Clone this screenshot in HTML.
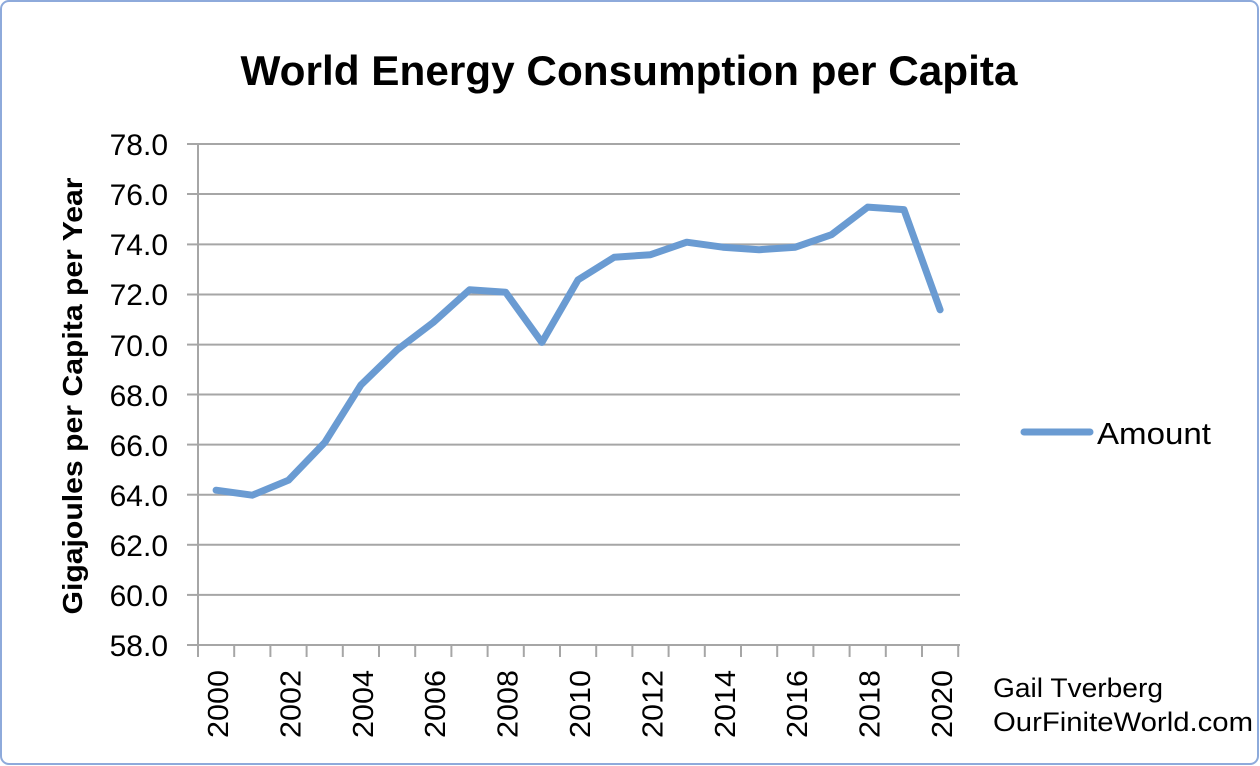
<!DOCTYPE html>
<html><head><style>
html,body{margin:0;padding:0;background:#fff;}
svg{display:block;font-family:"Liberation Sans",sans-serif;}
</style></head><body>
<svg width="1260" height="766" viewBox="0 0 1260 766">
<rect x="1" y="1" width="1257" height="763" rx="8" fill="#fff" stroke="#8eaadb" stroke-width="2"/>
<text x="629" y="85" text-anchor="middle" font-size="42" font-weight="bold" fill="#000" textLength="777" lengthAdjust="spacingAndGlyphs">World Energy Consumption per Capita</text>
<g stroke="#a6a6a6" stroke-width="2">
<line x1="198" y1="144" x2="960" y2="144"/>
<line x1="198" y1="194" x2="960" y2="194"/>
<line x1="198" y1="244.4" x2="960" y2="244.4"/>
<line x1="198" y1="294.5" x2="960" y2="294.5"/>
<line x1="198" y1="344.6" x2="960" y2="344.6"/>
<line x1="198" y1="394.5" x2="960" y2="394.5"/>
<line x1="198" y1="444.6" x2="960" y2="444.6"/>
<line x1="198" y1="494.7" x2="960" y2="494.7"/>
<line x1="198" y1="544.8" x2="960" y2="544.8"/>
<line x1="198" y1="594.9" x2="960" y2="594.9"/>
<line x1="187" y1="645" x2="960" y2="645"/>
<line x1="198" y1="144" x2="198" y2="645"/>
<line x1="187" y1="144" x2="198" y2="144"/><line x1="187" y1="194" x2="198" y2="194"/><line x1="187" y1="244.4" x2="198" y2="244.4"/><line x1="187" y1="294.5" x2="198" y2="294.5"/><line x1="187" y1="344.6" x2="198" y2="344.6"/><line x1="187" y1="394.5" x2="198" y2="394.5"/><line x1="187" y1="444.6" x2="198" y2="444.6"/><line x1="187" y1="494.7" x2="198" y2="494.7"/><line x1="187" y1="544.8" x2="198" y2="544.8"/><line x1="187" y1="594.9" x2="198" y2="594.9"/>
</g>
<g font-size="30" text-anchor="end" fill="#000">
<text x="168" y="155">78.0</text><text x="168" y="205">76.0</text><text x="168" y="255">74.0</text><text x="168" y="305">72.0</text><text x="168" y="356">70.0</text><text x="168" y="406">68.0</text><text x="168" y="456">66.0</text><text x="168" y="506">64.0</text><text x="168" y="556">62.0</text><text x="168" y="606">60.0</text><text x="168" y="656">58.0</text>
</g>
<text transform="translate(82,396) rotate(-90)" text-anchor="middle" font-size="28" font-weight="bold" textLength="437" lengthAdjust="spacingAndGlyphs">Gigajoules per Capita per Year</text>
<polyline fill="none" stroke="#6a9bd2" stroke-width="7" stroke-linejoin="round" stroke-linecap="round" points="216.1,490.2 252.3,495.2 288.5,480.2 324.7,442.6 360.9,385.0 397.1,349.9 433.3,322.4 469.5,289.8 505.7,292.3 541.9,342.4 578.1,279.8 614.3,257.2 650.5,254.7 686.7,242.2 722.9,247.2 759.1,249.7 795.3,247.2 831.5,234.7 867.7,207.1 903.9,209.6 940.1,309.8"/>
<line x1="1024" y1="432" x2="1090" y2="432" stroke="#6a9bd2" stroke-width="7" stroke-linecap="round"/>
<text x="1097" y="444" font-size="31" textLength="114" lengthAdjust="spacingAndGlyphs">Amount</text>
<text x="993" y="697" font-size="27" textLength="170" lengthAdjust="spacingAndGlyphs">Gail Tverberg</text>
<text x="993" y="731" font-size="27" textLength="260" lengthAdjust="spacingAndGlyphs">OurFiniteWorld.com</text>
<g stroke="#a6a6a6" stroke-width="2">
<line x1="198" y1="645" x2="198" y2="657"/><line x1="234.2" y1="645" x2="234.2" y2="657"/><line x1="270.4" y1="645" x2="270.4" y2="657"/><line x1="306.6" y1="645" x2="306.6" y2="657"/><line x1="342.8" y1="645" x2="342.8" y2="657"/><line x1="379" y1="645" x2="379" y2="657"/><line x1="415.2" y1="645" x2="415.2" y2="657"/><line x1="451.4" y1="645" x2="451.4" y2="657"/><line x1="487.6" y1="645" x2="487.6" y2="657"/><line x1="523.8" y1="645" x2="523.8" y2="657"/><line x1="560" y1="645" x2="560" y2="657"/><line x1="596.2" y1="645" x2="596.2" y2="657"/><line x1="632.4" y1="645" x2="632.4" y2="657"/><line x1="668.6" y1="645" x2="668.6" y2="657"/><line x1="704.8" y1="645" x2="704.8" y2="657"/><line x1="741" y1="645" x2="741" y2="657"/><line x1="777.2" y1="645" x2="777.2" y2="657"/><line x1="813.4" y1="645" x2="813.4" y2="657"/><line x1="849.6" y1="645" x2="849.6" y2="657"/><line x1="885.8" y1="645" x2="885.8" y2="657"/><line x1="922" y1="645" x2="922" y2="657"/><line x1="958.2" y1="645" x2="958.2" y2="657"/>
</g>
<g font-size="29" fill="#000" text-anchor="end">
<text transform="translate(228,670) rotate(-90)" textLength="68" lengthAdjust="spacingAndGlyphs">2000</text>
<text transform="translate(300.4,670) rotate(-90)" textLength="68" lengthAdjust="spacingAndGlyphs">2002</text>
<text transform="translate(372.8,670) rotate(-90)" textLength="68" lengthAdjust="spacingAndGlyphs">2004</text>
<text transform="translate(445.2,670) rotate(-90)" textLength="68" lengthAdjust="spacingAndGlyphs">2006</text>
<text transform="translate(517.6,670) rotate(-90)" textLength="68" lengthAdjust="spacingAndGlyphs">2008</text>
<text transform="translate(590,670) rotate(-90)" textLength="68" lengthAdjust="spacingAndGlyphs">2010</text>
<text transform="translate(662.4,670) rotate(-90)" textLength="68" lengthAdjust="spacingAndGlyphs">2012</text>
<text transform="translate(734.8,670) rotate(-90)" textLength="68" lengthAdjust="spacingAndGlyphs">2014</text>
<text transform="translate(807.2,670) rotate(-90)" textLength="68" lengthAdjust="spacingAndGlyphs">2016</text>
<text transform="translate(879.6,670) rotate(-90)" textLength="68" lengthAdjust="spacingAndGlyphs">2018</text>
<text transform="translate(952,670) rotate(-90)" textLength="68" lengthAdjust="spacingAndGlyphs">2020</text>
</g>
</svg>
</body></html>
